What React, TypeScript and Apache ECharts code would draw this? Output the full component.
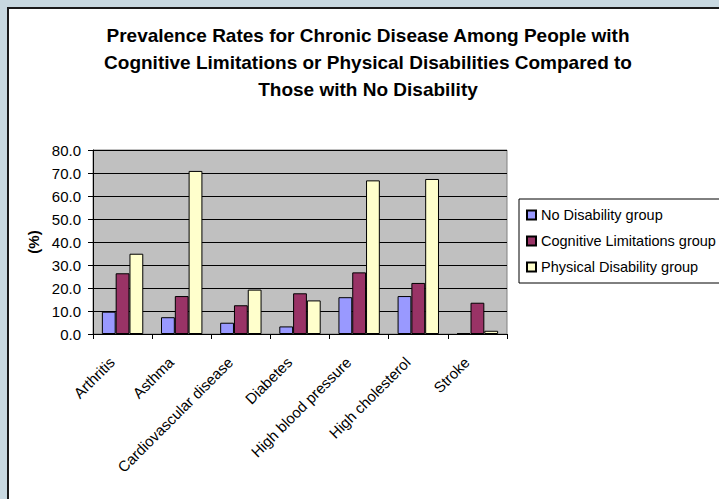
import React, { useEffect, useRef } from "react";
import * as echarts from "echarts";

const categories = [
  "Arthritis",
  "Asthma",
  "Cardiovascular disease",
  "Diabetes",
  "High blood pressure",
  "High cholesterol",
  "Stroke",
];
const noDisability = [9.7, 7.3, 4.9, 3.3, 16.0, 16.5, 0.4];
const cognitive = [26.4, 16.5, 12.5, 17.7, 26.8, 22.2, 13.6];
const physical = [34.9, 70.9, 19.3, 14.6, 66.8, 67.4, 1.4];
const seriesNames = [
  "No Disability group",
  "Cognitive Limitations group",
  "Physical Disability group",
];
const seriesColors = ["#9999FF", "#993366", "#FFFFCC"];
const titleText =
  "Prevalence Rates for Chronic Disease Among People with\nCognitive Limitations or Physical Disabilities Compared to\nThose with No Disability";

const FONT = '"Liberation Sans", Arial, sans-serif';

export default function App() {
  const ref = useRef<HTMLDivElement>(null);
  useEffect(() => {
    if (!ref.current) return;
    const chart = echarts.init(ref.current, null, { renderer: "svg" });
    const data = [noDisability, cognitive, physical];
    chart.setOption({
      animation: false,
      textStyle: { fontFamily: FONT, color: "#000" },
      graphic: [
        {
          type: "text",
          x: 368,
          y: 22,
          style: {
            text: titleText,
            font: `bold 19px ${FONT}`,
            fill: "#000",
            align: "center",
            verticalAlign: "top",
            lineHeight: 27,
          },
        },
      ],
      grid: {
        left: 93,
        top: 150,
        width: 414,
        height: 184,
        show: true,
        backgroundColor: "#C0C0C0",
        borderColor: "#808080",
        borderWidth: 1,
      },
      legend: {
        orient: "vertical",
        left: 519,
        top: 199,
        padding: [7.5, 10, 7.5, 7],
        itemGap: 9,
        itemWidth: 9,
        itemHeight: 9,
        icon: "rect",
        borderColor: "#000",
        borderWidth: 1,
        backgroundColor: "#fff",
        textStyle: { fontFamily: FONT, fontSize: 14.5, color: "#000", lineHeight: 17 },
        data: seriesNames,
      },
      xAxis: {
        type: "category",
        data: categories,
        axisLine: { show: true, lineStyle: { color: "#000", width: 1 } },
        axisTick: { show: true, length: 5, alignWithLabel: false, lineStyle: { color: "#000" } },
        axisLabel: {
          interval: 0,
          rotate: 45,
          margin: 15,
          padding: [0, 15, 0, 0],
          fontSize: 15,
          color: "#000",
          fontFamily: FONT,
        },
        splitLine: { show: false },
      },
      yAxis: {
        type: "value",
        min: 0,
        max: 80,
        interval: 10,
        name: "(%)",
        nameLocation: "middle",
        nameRotate: 90,
        nameGap: 50,
        nameTextStyle: { fontFamily: FONT, fontSize: 15, fontWeight: "bold", color: "#000" },
        axisLine: { show: true, lineStyle: { color: "#000", width: 1 } },
        axisTick: { show: true, length: 5, lineStyle: { color: "#000" } },
        axisLabel: {
          margin: 12,
          fontSize: 15,
          color: "#000",
          fontFamily: FONT,
          formatter: (v: number) => v.toFixed(1),
        },
        splitLine: { show: true, lineStyle: { color: "#000", width: 1 } },
      },
      series: seriesNames.map((name, i) => ({
        name,
        type: "bar",
        data: data[i],
        barGap: "0%",
        barCategoryGap: "30%",
        itemStyle: { color: seriesColors[i], borderColor: "#000", borderWidth: 1 },
      })),
    });
    return () => chart.dispose();
  }, []);

  return (
    <div
      style={{
        position: "fixed",
        left: 0,
        top: 0,
        width: 719,
        height: 499,
        overflow: "hidden",
        background: "#C8D8E0",
      }}
    >
      <div
        style={{
          position: "absolute",
          left: 7,
          top: 7,
          width: 800,
          height: 600,
          background: "#fff",
          border: "2px solid #1a1a1a",
        }}
      />
      <div
        ref={ref}
        style={{ position: "absolute", left: 0, top: 0, width: 719, height: 499 }}
      />
    </div>
  );
}
